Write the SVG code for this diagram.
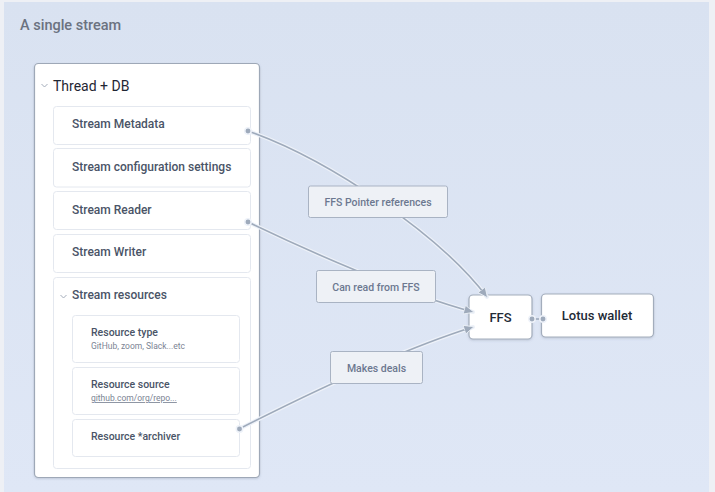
<svg xmlns="http://www.w3.org/2000/svg" width="715" height="492" viewBox="0 0 715 492">
<defs>
<linearGradient id="bg" x1="0" y1="0" x2="0" y2="1">
<stop offset="0" stop-color="#d9e2f1"/>
<stop offset="1" stop-color="#dfe7f6"/>
</linearGradient>
<filter id="sh" x="-10%" y="-10%" width="120%" height="120%">
<feDropShadow dx="0" dy="1" stdDeviation="1" flood-color="#5a6780" flood-opacity="0.25"/>
</filter>
<marker id="arr" viewBox="0 0 10 10" refX="9" refY="5" markerWidth="10" markerHeight="10" markerUnits="userSpaceOnUse" orient="auto">
<path d="M0,0.5 L10,5 L0,9.5 z" fill="#9eaabb" stroke="#eef2f8" stroke-width="0.8"/>
</marker>
</defs>
<style>
text{font-family:Roboto,"Liberation Sans",sans-serif}
.title{font-size:14.5px;font-weight:500;fill:#6b7280}
.box{fill:#fff;stroke:#9ea8b7;stroke-width:1.2}
.item{fill:#fff;stroke:#e4e8ef;stroke-width:1}
.it{font-size:12px;font-weight:500;fill:#4a5467}
.it2{font-size:10.5px;font-weight:500;fill:#4a5467}
.sub{font-size:8.5px;fill:#7b8494}
.hd{font-size:14px;font-weight:400;fill:#1f2633}
.chev{fill:none;stroke:#a4adbb;stroke-width:1}
.halo{fill:none;stroke:#eef2f9;stroke-width:4;stroke-linecap:round}
.ln{fill:none;stroke:#9eaabb;stroke-width:1.6}
.dot{fill:#9eaabb;stroke:#eef2f9;stroke-width:1.5}
.lbl{fill:#eef1f6;stroke:#a9b3c3;stroke-width:1}
.lt{font-size:10.5px;font-weight:500;fill:#6c7890;text-anchor:middle}
.nd{fill:#fff;stroke:#a3adbc;stroke-width:1.2}
.nt{font-size:13px;font-weight:500;fill:#232a36;text-anchor:middle}
</style>
<rect x="0" y="0" width="715" height="492" fill="#eef0f5"/>
<rect x="4" y="2" width="705" height="492" fill="url(#bg)"/>
<text class="title" x="20" y="30">A single stream</text>

<g id="thread-db">
<rect class="box" x="34.5" y="63.5" width="225" height="414" rx="4" filter="url(#sh)"/>
<path class="chev" d="M41.5,84 L44.5,87 L47.5,84"/>
<text class="hd" x="53" y="90.5">Thread + DB</text>
</g>
<g id="stream-metadata">
<rect class="item" x="53.5" y="106.5" width="197" height="38" rx="3"/>
<text class="it" x="72" y="128">Stream Metadata</text>
</g>
<g id="stream-config">
<rect class="item" x="53.5" y="148.5" width="197" height="38.5" rx="3"/>
<text class="it" x="72" y="171">Stream configuration settings</text>
</g>
<g id="stream-reader">
<rect class="item" x="53.5" y="191.5" width="197" height="38" rx="3"/>
<text class="it" x="72" y="214">Stream Reader</text>
</g>
<g id="stream-writer">
<rect class="item" x="53.5" y="234.5" width="197" height="38" rx="3"/>
<text class="it" x="72" y="256">Stream Writer</text>
</g>
<g id="stream-resources">
<rect class="item" x="53.5" y="277.5" width="197" height="191" rx="3"/>
<path class="chev" d="M60.5,295 L63.5,298 L66.5,295"/>
<text class="it" x="72" y="299">Stream resources</text>
</g>
<g id="resource-type">
<rect class="item" x="72.5" y="315.5" width="167" height="47" rx="3"/>
<text class="it2" x="91" y="336">Resource type</text>
<text class="sub" x="91" y="348.5">GitHub, zoom, Slack...etc</text>
</g>
<g id="resource-source">
<rect class="item" x="72.5" y="367.5" width="167" height="47" rx="3"/>
<text class="it2" x="91" y="388">Resource source</text>
<text class="sub" x="91" y="401" text-decoration="underline">github.com/org/repo...</text>
</g>
<g id="resource-archiver">
<rect class="item" x="72.5" y="419.5" width="167" height="37" rx="3"/>
<text class="it2" x="91" y="440">Resource *archiver</text>
</g>
<g id="ffs">
<rect class="nd" x="469" y="295" width="63" height="44" rx="4" filter="url(#sh)"/>
<text class="nt" x="500.5" y="322">FFS</text>
</g>
<g id="lotus-wallet">
<rect class="nd" x="541.5" y="294" width="112" height="43" rx="4" filter="url(#sh)"/>
<text class="nt" x="597" y="320">Lotus wallet</text>
</g>

<g id="connectors">
<path class="halo" d="M248,131 C330,160 440,235 487,297"/>
<path class="ln" d="M248,131 C330,160 440,235 487,297" marker-end="url(#arr)"/>
<path class="halo" d="M248,222 C308,251 403,293 473,312"/>
<path class="ln" d="M248,222 C308,251 403,293 473,312" marker-end="url(#arr)"/>
<path class="halo" d="M239,429 C300,398 400,350 473,327"/>
<path class="ln" d="M239,429 C300,398 400,350 473,327" marker-end="url(#arr)"/>
<path class="ln" d="M532,319 L543,319"/>
<circle class="dot" cx="248" cy="131" r="3.2"/>
<circle class="dot" cx="248" cy="222" r="3.2"/>
<circle class="dot" cx="239.5" cy="429" r="3.2"/>
<circle class="dot" cx="532" cy="319" r="3.2"/>
<circle class="dot" cx="543" cy="319" r="3.2"/>
<rect class="lbl" x="308.5" y="186" width="139" height="31.5" rx="2"/>
<text class="lt" x="378" y="205.5">FFS Pointer references</text>
<rect class="lbl" x="316.5" y="270.5" width="119" height="32" rx="2"/>
<text class="lt" x="376" y="290.5">Can read from FFS</text>
<rect class="lbl" x="330.5" y="351.5" width="92" height="32" rx="2"/>
<text class="lt" x="376.5" y="371.5">Makes deals</text>
</g>
</svg>
